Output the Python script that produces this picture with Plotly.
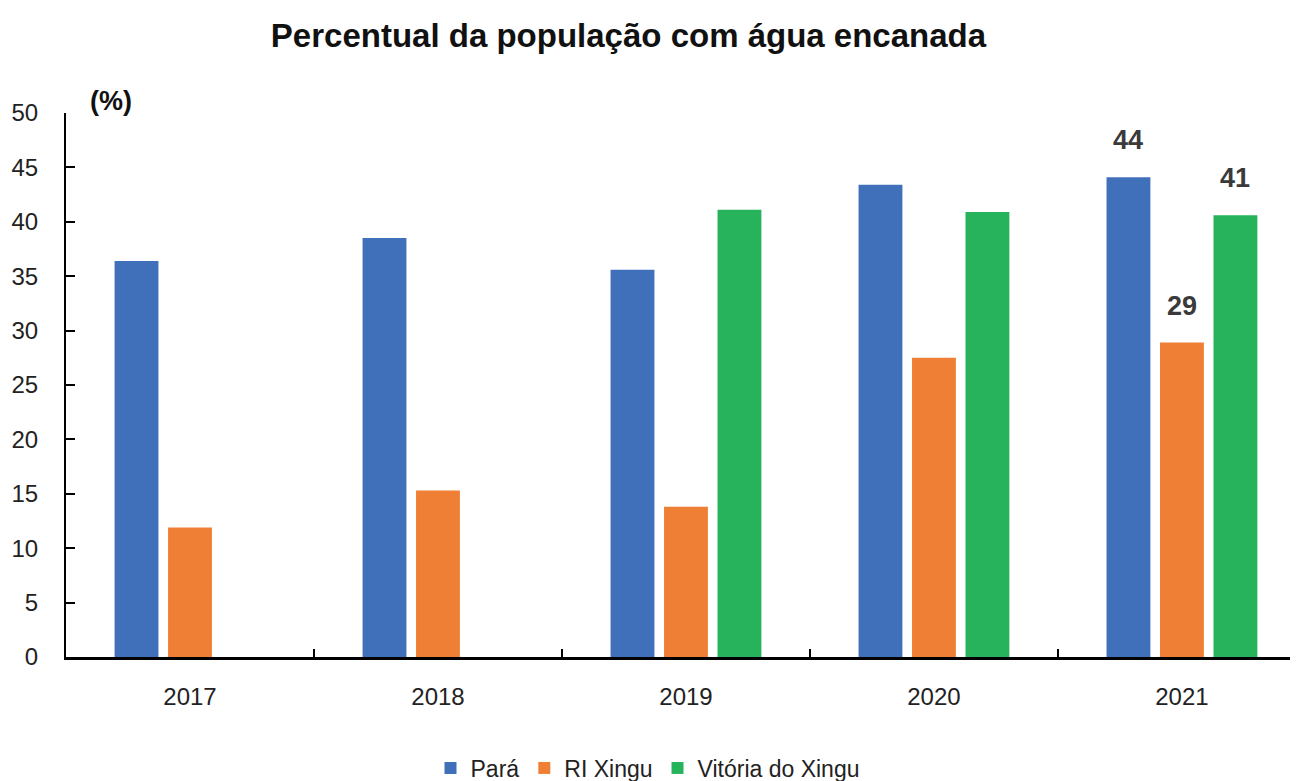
import plotly.graph_objects as go

# Dados
anos = ["2017", "2018", "2019", "2020", "2021"]
para = [36.4, 38.5, 35.6, 43.4, 44.1]
ri_xingu = [11.9, 15.3, 13.8, 27.5, 28.9]
vitoria_xingu = [None, None, 41.1, 40.9, 40.6]

series = [
    ("Pará", para, "#4070BA"),
    ("RI Xingu", ri_xingu, "#EE7F35"),
    ("Vitória do Xingu", vitoria_xingu, "#27B35B"),
]

FONT = "Liberation Sans, Arial"
BARGAP = 0.353

fig = go.Figure()
for name, values, color in series:
    fig.add_trace(go.Bar(
        x=anos, y=values, name=name,
        marker=dict(color=color, line=dict(width=0)),
    ))

# rótulos de valor só no último ano, acima de cada barra do grupo
slot = (1 - BARGAP) / len(series)
last = len(anos) - 1
for i, (name, values, color) in enumerate(series):
    fig.add_annotation(
        x=last + (i - (len(series) - 1) / 2) * slot, y=values[-1],
        xref="x", yref="y", yanchor="bottom", yshift=20, showarrow=False,
        text=f"<b>{round(values[-1])}</b>",
        font=dict(family=FONT, size=27, color="#3a3a3a"),
    )

# a página tem 8px de margem no body, por isso 1290x773
fig.update_layout(
    width=1290, height=773,
    barmode="group", bargap=BARGAP, bargroupgap=0.18,
    plot_bgcolor="white", paper_bgcolor="white",
    font=dict(family=FONT, size=24, color="#222222"),
    margin=dict(l=58, r=0, t=105, b=124, autoexpand=False),
    title=dict(
        text="<b>Percentual da população com água encanada</b>",
        x=0.481, xanchor="center", y=0.965, yanchor="middle",
        font=dict(family=FONT, size=33, color="#111111"),
    ),
    legend=dict(
        orientation="h", x=0.472, xanchor="center", y=-0.204, yanchor="middle",
        font=dict(family=FONT, size=23), itemwidth=30,
    ),
)

fig.update_xaxes(
    range=[-0.5, 4.468],
    showline=True, linecolor="black", linewidth=3,
    ticks="inside", tickson="boundaries", ticklen=8, tickwidth=2, tickcolor="black",
    ticklabelstandoff=16, showgrid=False,
)
fig.update_yaxes(
    range=[0, 50], dtick=5,
    showline=True, linecolor="black", linewidth=2,
    ticks="inside", ticklen=9, tickwidth=2, tickcolor="black",
    ticklabelstandoff=21, showgrid=False, zeroline=False,
)

fig.add_annotation(
    text="<b>(%)</b>", xref="paper", yref="paper", x=0.018, y=1,
    xanchor="left", yanchor="middle", yshift=12, showarrow=False,
    font=dict(family=FONT, size=27, color="#111111"),
)

fig.write_html("out.html")
